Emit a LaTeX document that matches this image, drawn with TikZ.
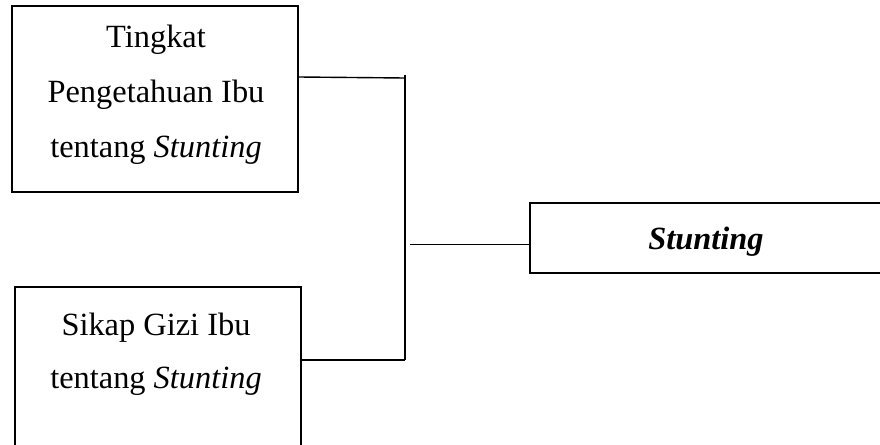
\documentclass[tikz,border=0pt]{standalone}
\usepackage{fontspec}
\setmainfont{Liberation Serif}
\begin{document}
\begin{tikzpicture}[x=0.5pt,y=-0.5pt,
  box/.style={draw=black,line width=1.1pt,inner sep=0pt,fill=white},
  txt/.style={anchor=base,inner sep=0pt,font=\fontsize{16.2}{19}\selectfont},
  conn/.style={draw=black,line width=0.7pt}]
\useasboundingbox (0,0) rectangle (880,445);
\clip (0,0) rectangle (880,445);
\fill[white] (0,0) rectangle (880,445);
% boxes
\node[box,minimum width=143pt,minimum height=93pt] (b1) at (155,99) {};
\node[box,minimum width=143pt,minimum height=91.5pt] (b2) at (158,378.5) {};
\node[box,minimum width=185pt,minimum height=35pt] (b3) at (715,238) {};
% texts
\node[txt] (t1a) at (156,47) {Tingkat};
\node[txt] (t1b) at (156,102) {Pengetahuan Ibu};
\node[txt] (t1c) at (156,157) {tentang \textit{Stunting}};
\node[txt] (t2a) at (156,335) {Sikap Gizi Ibu};
\node[txt] (t2b) at (156,388) {tentang \textit{Stunting}};
\node[txt] (t3) at (706,249) {\textbf{\textit{Stunting}}};
% connectors
\coordinate (j1) at (405,78);
\coordinate (jtop) at (405,75);
\coordinate (jbot) at (405,360);
\coordinate (m1) at (410,244.5);
\draw[conn] (b1.east |- 0,77) -- (j1);
\draw[conn] (jtop) -- (jbot);
\draw[conn] (b2.east |- jbot) -- (jbot);
\draw[conn] (m1) -- (b3.west |- m1);
\end{tikzpicture}
\end{document}
